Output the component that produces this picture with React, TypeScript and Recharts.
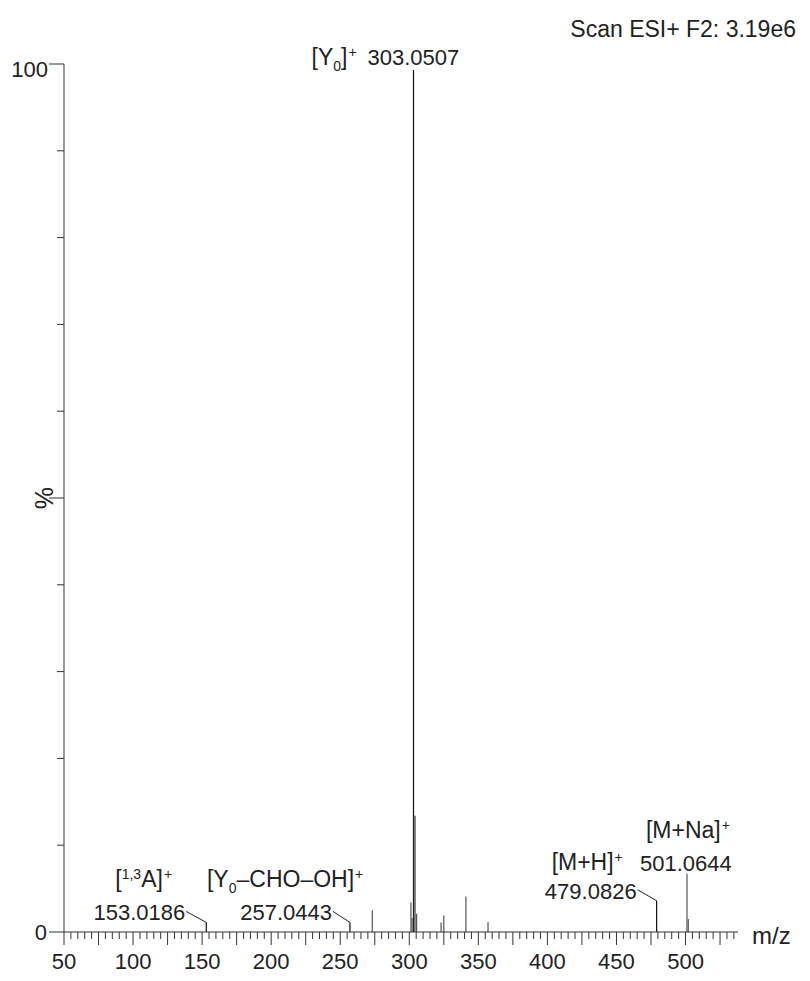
import { ComposedChart, XAxis, YAxis, Scatter, ReferenceLine, ReferenceDot, Label } from "recharts";

// peak list (m/z, relative intensity %)
const peakMz = [153.02, 257.04, 273.2, 301.2, 302.0, 303.05, 304.05, 305.3, 323.0, 325.0, 341.0, 357.0, 479.08, 501.06, 502.0];
const peakIntensity = [1.1, 1.1, 2.5, 3.4, 1.6, 99.3, 13.4, 2.1, 1.1, 1.9, 4.1, 1.15, 3.6, 6.7, 1.5];

// annotated peaks
const labelMz = [153.0186, 257.0443, 303.0507, 479.0826, 501.0644];
const labelIntensity = [1.1, 1.1, 99.3, 3.6, 6.7];
type Part = { t: string; k?: "sup" | "sub" };
const ionNames: Part[][] = [
  [{ t: "[" }, { t: "1,3", k: "sup" }, { t: "A]" }, { t: "+", k: "sup" }],
  [{ t: "[Y" }, { t: "0", k: "sub" }, { t: "–CHO–OH]" }, { t: "+", k: "sup" }],
  [{ t: "[Y" }, { t: "0", k: "sub" }, { t: "]" }, { t: "+", k: "sup" }],
  [{ t: "[M+H]" }, { t: "+", k: "sup" }],
  [{ t: "[M+Na]" }, { t: "+", k: "sup" }],
];

const xLabelTicks = [50, 100, 150, 200, 250, 300, 350, 400, 450, 500];
const yTicks = [0, 10, 20, 30, 40, 50, 60, 70, 80, 90, 100];
const xMinorTicks = Array.from({ length: 98 }, (_, i) => 50 + i * 5);

const peaks = peakMz.map((mz, i) => ({ mz, intensity: peakIntensity[i] }));
const darkPeaks = new Set([153.02, 257.04, 303.05, 479.08]);

const FONT = "'Liberation Sans', Arial, sans-serif";
const INK = "#222";

// label placement relative to the peak top (pixels)
const layout = [
  { mzDx: -21, mzDy: -2, mzAnchor: "end", ionDx: -91, ionDy: -35, conn: -20 },
  { mzDx: -18, mzDy: -2, mzAnchor: "end", ionDx: -143, ionDy: -35, conn: -17 },
  { mzDx: -46, mzDy: -5, mzAnchor: "start", ionDx: -102, ionDy: -5, conn: 0 },
  { mzDx: -20, mzDy: -2, mzAnchor: "end", ionDx: -105, ionDy: -31, conn: -19 },
  { mzDx: -47, mzDy: -3, mzAnchor: "start", ionDx: -41, ionDy: -36, conn: 0 },
];

function RichText({ x, y, parts }: { x: number; y: number; parts: Part[] }) {
  let shift = 0;
  return (
    <text x={x} y={y} fontSize={23} fill={INK} fontFamily={FONT}>
      {parts.map((p, i) => {
        const target = p.k === "sup" ? -8 : p.k === "sub" ? 6 : 0;
        const dy = target - shift;
        shift = target;
        return (
          <tspan key={i} dy={dy} fontSize={p.k ? 14 : 23} dx={p.k === "sup" && p.t === "+" ? 1 : 0}>
            {p.t}
          </tspan>
        );
      })}
    </text>
  );
}

function Annotation(props: any, i: number) {
  const { cx, cy } = props;
  const l = layout[i];
  return (
    <g>
      <text x={cx + l.mzDx} y={cy + l.mzDy} textAnchor={l.mzAnchor} fontSize={22} fill={INK} fontFamily={FONT}>
        {labelMz[i].toFixed(4)}
      </text>
      {l.conn !== 0 && (
        <line x1={cx + l.conn} y1={cy - 11} x2={cx} y2={cy} stroke={INK} strokeWidth={1} />
      )}
      <RichText x={cx + l.ionDx} y={cy + l.ionDy} parts={ionNames[i]} />
    </g>
  );
}

function XTick({ x, y, payload }: any) {
  const v = payload.value;
  const major = v % 25 === 0;
  return (
    <g>
      <line x1={x} x2={x} y1={y} y2={y + (major ? 13 : 7)} stroke="#333" strokeWidth={1} />
      {xLabelTicks.includes(v) && (
        <text x={x} y={y + 37} textAnchor="middle" fontSize={22} fill={INK} fontFamily={FONT}>
          {v}
        </text>
      )}
    </g>
  );
}

function YTick({ x, y, payload }: any) {
  const v = payload.value;
  const major = v % 50 === 0;
  return (
    <g>
      <line x1={x - (major ? 15 : 7)} x2={x} y1={y} y2={y} stroke="#333" strokeWidth={1} />
      {v === 0 && (
        <text x={x - 17} y={y + 8} textAnchor="end" fontSize={22} fill={INK} fontFamily={FONT}>0</text>
      )}
      {v === 100 && (
        <text x={x - 16} y={y + 13} textAnchor="end" fontSize={22} fill={INK} fontFamily={FONT}>100</text>
      )}
      {v === 50 && (
        <text x={x - 11} y={y} transform={`rotate(-90 ${x - 11} ${y})`} textAnchor="middle" fontSize={25} fill={INK} fontFamily={FONT}>%</text>
      )}
    </g>
  );
}

export default function App() {
  return (
    <div style={{ position: "absolute", left: 0, top: 0 }}>
      <ComposedChart
        width={810}
        height={981}
        data={peaks}
        margin={{ top: 64, right: 72, bottom: 0, left: 4 }}
        style={{ fontFamily: FONT }}
      >
        <XAxis
          dataKey="mz"
          type="number"
          domain={[50, 538]}
          ticks={xMinorTicks}
          interval={0}
          allowDataOverflow
          tickSize={0}
          tickMargin={0}
          tickLine={false}
          axisLine={{ stroke: "#333" }}
          tick={<XTick />}
          height={49}
        >
          <Label
            content={({ viewBox }: any) => (
              <text x={viewBox.x + viewBox.width + 14} y={viewBox.y + 12} fontSize={24} fill={INK} fontFamily={FONT}>
                m/z
              </text>
            )}
          />
        </XAxis>
        <YAxis
          type="number"
          domain={[0, 100]}
          ticks={yTicks}
          interval={0}
          tickSize={0}
          tickMargin={0}
          tickLine={false}
          axisLine={{ stroke: "#333" }}
          tick={<YTick />}
          width={60}
        />
        <Scatter dataKey="intensity" isAnimationActive={false} shape={() => <g />} />
        {peaks.map((p) => (
          <ReferenceLine
            key={`pk-${p.mz}`}
            segment={[{ x: p.mz, y: 0 }, { x: p.mz, y: p.intensity }]}
            stroke={darkPeaks.has(p.mz) ? "#111" : p.mz === 304.05 ? "#777" : "#555"}
            strokeWidth={p.mz === 304.05 ? 2 : 1.2}
            ifOverflow="visible"
          />
        ))}
        {labelMz.map((mz, i) => (
          <ReferenceDot
            key={`lb-${mz}`}
            x={mz}
            y={labelIntensity[i]}
            ifOverflow="visible"
            shape={(props: any) => Annotation(props, i)}
          />
        ))}
        <text x={796} y={37} textAnchor="end" fontSize={23} fill={INK} fontFamily={FONT}>
          Scan ESI+ F2: 3.19e6
        </text>
      </ComposedChart>
    </div>
  );
}
